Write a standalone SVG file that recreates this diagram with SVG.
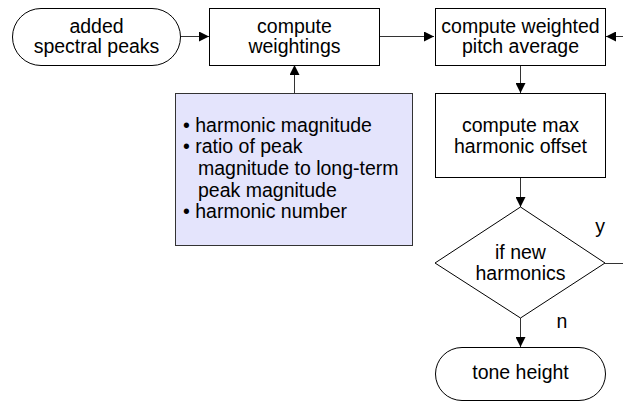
<svg xmlns="http://www.w3.org/2000/svg" width="623" height="403" viewBox="0 0 623 403">
<defs>
<marker id="ah" markerWidth="10" markerHeight="10" refX="10" refY="5" orient="auto" markerUnits="userSpaceOnUse">
<path d="M0,0 L10,5 L0,10 Z" fill="#000"/>
</marker>
<style>
.n{fill:#fff;stroke:#000;stroke-width:1}
.b{fill:#e4e4fc;stroke:#333;stroke-width:1}
.c{stroke:#333;stroke-width:1;fill:none}
text{font-family:"Liberation Sans",Arial,sans-serif;font-size:19.5px;fill:#000}
.m{text-anchor:middle}
</style>
</defs>
<rect width="623" height="403" fill="#fff"/>
<g id="connectors">
<line class="c" x1="181" y1="36.5" x2="209" y2="36.5" marker-end="url(#ah)"/>
<line class="c" x1="379" y1="36.5" x2="434" y2="36.5" marker-end="url(#ah)"/>
<line class="c" x1="623" y1="36.5" x2="606" y2="36.5" marker-end="url(#ah)"/>
<line class="c" x1="294.5" y1="93" x2="294.5" y2="65" marker-end="url(#ah)"/>
<line class="c" x1="520.5" y1="65" x2="520.5" y2="93" marker-end="url(#ah)"/>
<line class="c" x1="520.5" y1="177" x2="520.5" y2="207" marker-end="url(#ah)"/>
<line class="c" x1="520.5" y1="318" x2="520.5" y2="347" marker-end="url(#ah)"/>
<line class="c" x1="605" y1="263.5" x2="623" y2="263.5"/>
<text x="600" y="233" class="m">y</text>
<text x="562" y="328" class="m">n</text>
</g>
<g id="added-spectral-peaks">
<rect class="n" x="12.5" y="8.5" width="168" height="57" rx="28.5" ry="28.5"/>
<text x="96.5" y="33" class="m">added</text>
<text x="96.5" y="53" class="m">spectral peaks</text>
</g>
<g id="compute-weightings">
<rect class="n" x="209.5" y="8.5" width="170" height="57"/>
<text x="294.5" y="33" class="m">compute</text>
<text x="294.5" y="53" class="m">weightings</text>
</g>
<g id="compute-weighted-pitch-average">
<rect class="n" x="435.5" y="8.5" width="170" height="57"/>
<text x="520.5" y="33" class="m">compute weighted</text>
<text x="520.5" y="53" class="m">pitch average</text>
</g>
<g id="weight-factors">
<rect class="b" x="175.5" y="93.5" width="237" height="152"/>
<text x="183" y="132">• harmonic magnitude</text>
<text x="183" y="153">• ratio of peak</text>
<text x="198" y="175">magnitude to long-term</text>
<text x="198" y="197">peak magnitude</text>
<text x="183" y="218">• harmonic number</text>
</g>
<g id="compute-max-harmonic-offset">
<rect class="n" x="435.5" y="93.5" width="170" height="84"/>
<text x="520.5" y="132" class="m">compute max</text>
<text x="520.5" y="153" class="m">harmonic offset</text>
</g>
<g id="if-new-harmonics">
<polygon class="n" points="520.5,207 605,263 520.5,318 435,263"/>
<text x="520.5" y="259" class="m">if new</text>
<text x="520.5" y="280" class="m">harmonics</text>
</g>
<g id="tone-height">
<rect class="n" x="435.5" y="347.5" width="170" height="53" rx="26.5" ry="26.5"/>
<text x="520.5" y="379" class="m">tone height</text>
</g>
</svg>
